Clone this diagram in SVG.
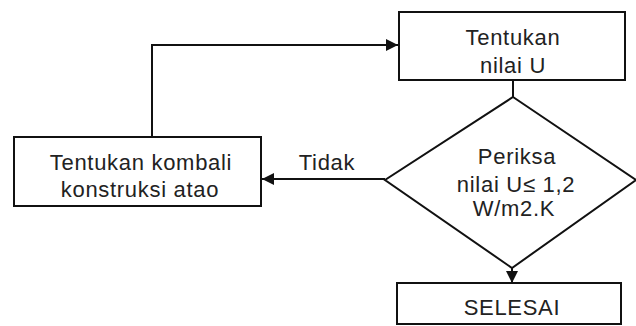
<svg xmlns="http://www.w3.org/2000/svg" width="636" height="326" viewBox="0 0 636 326">
<defs>
<style>
.box{fill:#fff;stroke:#111;stroke-width:2}
.ln{fill:none;stroke:#111;stroke-width:2}
.t{font-family:"Liberation Sans",Arial,sans-serif;font-size:22px;letter-spacing:0.7px;fill:#222;text-anchor:middle}
</style>
<marker id="ah" viewBox="0 0 10 10" refX="10" refY="5" markerWidth="13" markerHeight="12" markerUnits="userSpaceOnUse" orient="auto">
<path d="M0,0 L10,5 L0,10 z" fill="#111"/>
</marker>
</defs>
<rect width="636" height="326" fill="#fff"/>
<g id="connectors">
<path class="ln" d="M152,137 V45 H398" marker-end="url(#ah)"/>
<path class="ln" d="M513,80 V97"/>
<path class="ln" d="M385,179 H262" marker-end="url(#ah)"/>
<text class="t" x="327" y="170">Tidak</text>
<path class="ln" d="M512,266 V283" marker-end="url(#ah)"/>
</g>
<g id="tentukan-u">
<rect class="box" x="399" y="12" width="226" height="68"/>
<text class="t" x="513" y="45">Tentukan</text>
<text class="t" x="513" y="73">nilai U</text>
</g>
<g id="tentukan-kombali">
<rect class="box" x="14" y="137" width="247" height="69"/>
<text class="t" x="141" y="170">Tentukan kombali</text>
<text class="t" x="140" y="197">konstruksi atao</text>
</g>
<g id="periksa">
<path class="box" d="M513,97 L636,180 L512,268 L385,180 Z"/>
<text class="t" x="517" y="164">Periksa</text>
<text class="t" x="516" y="192">nilai U≤ 1,2</text>
<text class="t" x="514" y="216">W/m2.K</text>
</g>
<g id="selesai">
<rect class="box" x="397" y="283" width="224" height="41"/>
<text class="t" x="512" y="315">SELESAI</text>
</g>
</svg>
